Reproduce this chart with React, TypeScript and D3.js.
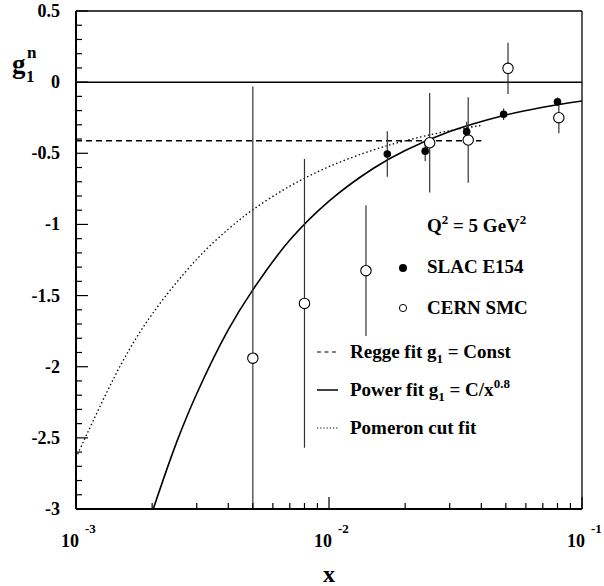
import React, { useEffect } from "react";
import * as d3 from "d3";

// SLAC E154 (filled circles)
const slacX = [0.017, 0.024, 0.035, 0.049, 0.08];
const slacY = [-0.505, -0.485, -0.348, -0.226, -0.138];
const slacErr = [0.16, 0.07, 0.07, 0.04, 0.03];

// CERN SMC (open circles)
const cernX = [0.005, 0.008, 0.014, 0.025, 0.0355, 0.051, 0.081];
const cernY = [-1.94, -1.555, -1.325, -0.426, -0.407, 0.097, -0.25];
const cernErr = [1.91, 1.015, 0.46, 0.35, 0.3, 0.18, 0.11];

// Regge fit g1 = Const
const reggeX = [0.001, 0.04];
const reggeY = [-0.412, -0.412];

// Power fit g1 = C/x^0.8
const powerX = [0.00202, 0.0025, 0.003, 0.004, 0.005, 0.007, 0.01, 0.015, 0.02, 0.03, 0.05, 0.07, 0.1];
const powerY = [-3.0, -2.53, -2.19, -1.74, -1.46, -1.11, -0.836, -0.605, -0.48, -0.347, -0.231, -0.176, -0.132];

// Pomeron cut fit
const pomX = [0.001, 0.0015, 0.002, 0.003, 0.004, 0.005, 0.007, 0.01, 0.015, 0.02, 0.03, 0.04];
const pomY = [-2.64, -1.99, -1.63, -1.245, -1.033, -0.897, -0.731, -0.594, -0.476, -0.412, -0.341, -0.304];

const yTickValues = [0.5, 0, -0.5, -1, -1.5, -2, -2.5, -3];
const yTickLabels = ["0.5", "0", "-0.5", "-1", "-1.5", "-2", "-2.5", "-3"];
const xDecades = [0.001, 0.01, 0.1];
const xDecadeExp = ["-3", "-2", "-1"];

const W = 604;
const H = 586;
const left = 76;
const right = 582;
const top = 11;
const bottom = 509;
const FONT = '"Liberation Serif", "Times New Roman", Times, serif';
const tStyle = { fontFamily: FONT, fontWeight: 700 as const };

export default function App() {
  useEffect(() => {
    document.body.style.margin = "0";
  }, []);

  const x = d3.scaleLog().domain([0.001, 0.1]).range([left, right]);
  const y = d3.scaleLinear().domain([-3, 0.5]).range([bottom, top]);

  const minorY = d3
    .range(-30, 6)
    .map((v) => v / 10)
    .filter((v) => Math.abs(v * 2 - Math.round(v * 2)) > 1e-6);
  const minorX: number[] = [];
  [0.001, 0.01].forEach((d) => {
    for (let k = 2; k <= 9; k++) minorX.push(d * k);
  });

  const line = d3
    .line<[number, number]>()
    .x((d) => x(d[0]))
    .y((d) => y(d[1]))
    .curve(d3.curveCatmullRom.alpha(0.5));

  const powerPath = line(powerX.map((v, i) => [v, powerY[i]] as [number, number])) || "";
  const pomPath = line(pomX.map((v, i) => [v, pomY[i]] as [number, number])) || "";
  const reggePath =
    d3
      .line<[number, number]>()
      .x((d) => x(d[0]))
      .y((d) => y(d[1]))(reggeX.map((v, i) => [v, reggeY[i]] as [number, number])) || "";

  return (
    <svg width={W} height={H} style={{ position: "absolute", left: 0, top: 0, background: "#fff" }}>
      <defs>
        <clipPath id="plotClip">
          <rect x={left} y={top} width={right - left} height={bottom - top} />
        </clipPath>
      </defs>
      <rect x={0} y={0} width={W} height={H} fill="#fff" />

      {/* zero line */}
      <line x1={left} x2={right} y1={y(0)} y2={y(0)} stroke="#000" strokeWidth={1.5} />

      {/* curves */}
      <g clipPath="url(#plotClip)" fill="none">
        <path d={reggePath} stroke="#000" strokeWidth={1.3} strokeDasharray="6,4" />
        <path d={pomPath} stroke="#000" strokeWidth={1.3} strokeDasharray="1.5,2.5" />
        <path d={powerPath} stroke="#000" strokeWidth={1.6} />
      </g>

      {/* error bars */}
      <g clipPath="url(#plotClip)" stroke="#333" strokeWidth={1.2}>
        {cernX.map((v, i) => (
          <line key={"ce" + i} x1={x(v)} x2={x(v)} y1={y(cernY[i] + cernErr[i])} y2={y(cernY[i] - cernErr[i])} />
        ))}
        {slacX.map((v, i) => (
          <line key={"se" + i} x1={x(v)} x2={x(v)} y1={y(slacY[i] + slacErr[i])} y2={y(slacY[i] - slacErr[i])} />
        ))}
      </g>

      {/* points */}
      <g>
        {cernX.map((v, i) => (
          <circle key={"c" + i} cx={x(v)} cy={y(cernY[i])} r={5.2} fill="#fff" stroke="#000" strokeWidth={1.1} />
        ))}
        {slacX.map((v, i) => (
          <circle key={"s" + i} cx={x(v)} cy={y(slacY[i])} r={3.8} fill="#000" />
        ))}
      </g>

      {/* frame */}
      <line x1={left} x2={left} y1={top} y2={bottom} stroke="#000" strokeWidth={2} />
      <line x1={left} x2={right} y1={bottom} y2={bottom} stroke="#000" strokeWidth={2} />
      <line x1={left} x2={right} y1={top} y2={top} stroke="#000" strokeWidth={1.3} />
      <line x1={right} x2={right} y1={top} y2={bottom} stroke="#000" strokeWidth={1.3} />

      {/* y ticks */}
      <g stroke="#000" strokeWidth={1.2}>
        {minorY.map((v, i) => (
          <line key={"ym" + i} x1={left} x2={left + 6} y1={y(v)} y2={y(v)} />
        ))}
        {yTickValues.map((v, i) => (
          <line key={"yM" + i} x1={left} x2={left + 12} y1={y(v)} y2={y(v)} />
        ))}
      </g>
      <g style={tStyle} fontSize={18} textAnchor="end">
        {yTickValues.map((v, i) => (
          <text key={"yl" + i} x={60} y={y(v) + 6}>
            {yTickLabels[i]}
          </text>
        ))}
      </g>

      {/* x ticks */}
      <g stroke="#000" strokeWidth={1.2}>
        {minorX.map((v, i) => (
          <line key={"xm" + i} x1={x(v)} x2={x(v)} y1={bottom} y2={bottom - 6} />
        ))}
        {xDecades.map((v, i) => (
          <line key={"xM" + i} x1={x(v)} x2={x(v)} y1={bottom} y2={bottom - 12} />
        ))}
      </g>
      <g style={tStyle}>
        {xDecades.map((v, i) => (
          <text key={"xl" + i} x={x(v) - 15} y={547} fontSize={18}>
            10
            <tspan dx={6} dy={-14} fontSize={13}>
              {xDecadeExp[i]}
            </tspan>
          </text>
        ))}
      </g>

      {/* axis titles */}
      <text x={x(0.01)} y={582} fontSize={24} style={tStyle} textAnchor="middle">
        x
      </text>
      <text x={12} y={73} fontSize={27} style={tStyle}>
        g
      </text>
      <text x={27} y={58} fontSize={17} style={tStyle}>
        n
      </text>
      <text x={26} y={82} fontSize={17} style={tStyle}>
        1
      </text>

      {/* legend 1 */}
      <g style={tStyle} fontSize={19}>
        <text x={427} y={232}>
          Q<tspan dy={-8} fontSize={13}>2</tspan>
          <tspan dy={8}> = 5 GeV</tspan>
          <tspan dy={-8} fontSize={13}>2</tspan>
        </text>
        <circle cx={403} cy={268} r={4} fill="#000" />
        <text x={427} y={273}>SLAC E154</text>
        <circle cx={403} cy={308} r={3.6} fill="#fff" stroke="#000" strokeWidth={1} />
        <text x={427} y={314}>CERN SMC</text>
      </g>

      {/* legend 2 */}
      <g stroke="#000" fill="none">
        <line x1={317} x2={338} y1={352} y2={352} strokeWidth={1.2} strokeDasharray="4,3.5" />
        <line x1={317} x2={338} y1={390} y2={390} strokeWidth={1.5} />
        <line x1={317} x2={338} y1={428} y2={428} strokeWidth={1.2} strokeDasharray="1.2,2" />
      </g>
      <g style={tStyle} fontSize={19}>
        <text x={350} y={358}>
          Regge fit g<tspan dy={5} fontSize={13}>1</tspan>
          <tspan dy={-5}> = Const</tspan>
        </text>
        <text x={350} y={396}>
          Power fit g<tspan dy={5} fontSize={13}>1</tspan>
          <tspan dy={-5}> = C/x</tspan>
          <tspan dy={-8} fontSize={13}>0.8</tspan>
        </text>
        <text x={350} y={434}>Pomeron cut fit</text>
      </g>
    </svg>
  );
}
